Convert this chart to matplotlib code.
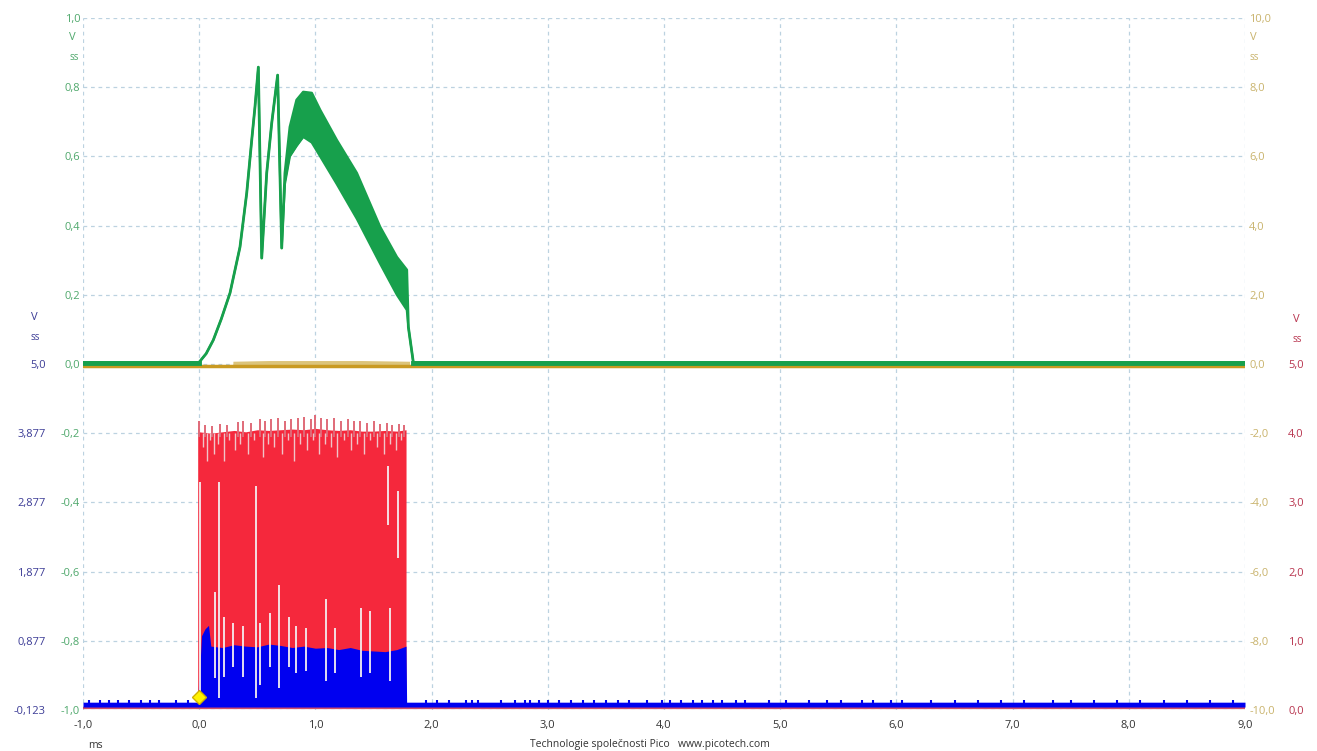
import numpy as np
import matplotlib.pyplot as plt

plt.rcParams['font.family'] = ['Open Sans', 'DejaVu Sans']

# time axis, ms
x_ticks = [-1, 0, 1, 2, 3, 4, 5, 6, 7, 8, 9]
x_labels = ['-1,0', '0,0', '1,0', '2,0', '3,0', '4,0', '5,0', '6,0', '7,0', '8,0', '9,0']

# axis tick labels of the four channels
green_ticks = [-1.0, -0.8, -0.6, -0.4, -0.2, 0.0, 0.2, 0.4, 0.6, 0.8, 1.0]
green_labels = ['-1,0', '-0,8', '-0,6', '-0,4', '-0,2', '0,0', '0,2', '0,4', '0,6', '0,8', '1,0']
yellow_ticks = [-10, -8, -6, -4, -2, 0, 2, 4, 6, 8, 10]
yellow_labels = ['-10,0', '-8,0', '-6,0', '-4,0', '-2,0', '0,0', '2,0', '4,0', '6,0', '8,0', '10,0']
blue_ticks = [-0.123, 0.877, 1.877, 2.877, 3.877, 4.877]
blue_labels = ['-0,123', '0,877', '1,877', '2,877', '3,877', '5,0']
red_ticks = [0, 1, 2, 3, 4, 5]
red_labels = ['0,0', '1,0', '2,0', '3,0', '4,0', '5,0']

# channel C (green), upper / lower envelope
green_t = [-1.0, -0.003, 0.06, 0.121, 0.19, 0.265, 0.351, 0.409, 0.452, 0.480, 0.509,
           0.538, 0.581, 0.624, 0.675, 0.710, 0.738, 0.781, 0.839, 0.896, 0.968,
           1.040, 1.183, 1.355, 1.556, 1.700, 1.786, 1.800, 1.843, 9.0]
green_hi = [0.004, 0.004, 0.03, 0.069, 0.13, 0.205, 0.338, 0.494, 0.647, 0.743, 0.858,
            0.306, 0.552, 0.696, 0.835, 0.335, 0.552, 0.685, 0.763, 0.786, 0.783,
            0.734, 0.647, 0.552, 0.396, 0.309, 0.272, 0.107, 0.004, 0.004]
green_lo = [0.004, 0.004, 0.03, 0.069, 0.13, 0.205, 0.338, 0.494, 0.647, 0.743, 0.858,
            0.306, 0.552, 0.696, 0.835, 0.335, 0.520, 0.600, 0.630, 0.656, 0.640,
            0.600, 0.520, 0.420, 0.290, 0.200, 0.156, 0.107, 0.004, 0.004]

# channel D (yellow)
yellow_t = [-1.0, 9.0]
yellow_v = [-0.06, -0.06]
yellow_noise_t = [0.29, 0.6, 1.0, 1.4, 1.81]
yellow_noise_hi = [0.08, 0.1, 0.1, 0.1, 0.08]

# channel A (blue)
blue_t = [-1.0, -0.01, -0.005, 0.0, 0.02, 0.05, 0.08, 0.1, 0.2, 0.3, 0.4, 0.5, 0.6,
          0.7, 0.8, 0.9, 1.0, 1.1, 1.2, 1.3, 1.4, 1.5, 1.6, 1.7, 1.78, 1.785, 9.0]
blue_hi = [-0.01, -0.01, 0.3, 0.31, 0.95, 1.05, 1.1, 0.8, 0.78, 0.82, 0.8, 0.79, 0.83,
           0.81, 0.78, 0.8, 0.77, 0.78, 0.75, 0.78, 0.74, 0.73, 0.72, 0.75, 0.8, -0.01, -0.01]
blue_lo = -0.08
blue_spikes_t = [-0.95, -0.85, -0.78, -0.7, -0.6, -0.5, -0.42, -0.35, -0.2, -0.1,
                 1.95, 2.05, 2.15, 2.3, 2.35, 2.4, 2.6, 2.72, 2.8, 2.85, 2.92, 3.0, 3.1,
                 3.2, 3.3, 3.4, 3.5, 3.6, 3.7, 3.85, 3.98, 4.05, 4.15, 4.25, 4.33, 4.42,
                 4.5, 4.62, 4.7, 4.9, 5.05, 5.25, 5.4, 5.52, 5.7, 5.8, 5.95, 6.05, 6.3,
                 6.5, 6.7, 6.9, 7.1, 7.35, 7.5, 7.7, 7.9, 8.1, 8.3, 8.5, 8.7, 8.9]
blue_spike_top = 0.025

# channel B (red)
red_t = [-0.013, 0.0, 0.1, 0.2, 0.3, 0.4, 0.5, 0.6, 0.7, 0.8, 0.9, 1.0, 1.1, 1.2,
         1.3, 1.4, 1.5, 1.6, 1.7, 1.78]
red_hi = [4.1, 4.02, 4.0, 4.02, 4.04, 4.02, 4.05, 4.04, 4.05, 4.06, 4.05, 4.07, 4.05,
          4.04, 4.05, 4.03, 4.03, 4.04, 4.03, 4.05]
red_base = 0.03
red_tip_t = [0.0, 0.05, 0.11, 0.18, 0.24, 0.33, 0.38, 0.45, 0.52, 0.57, 0.62, 0.68,
             0.74, 0.79, 0.85, 0.9, 0.96, 1.0, 1.05, 1.1, 1.16, 1.22, 1.28, 1.33,
             1.38, 1.44, 1.5, 1.56, 1.62, 1.66, 1.72, 1.76]
red_tip_hi = [4.17, 4.12, 4.1, 4.14, 4.12, 4.16, 4.18, 4.15, 4.2, 4.17, 4.2, 4.22,
              4.18, 4.2, 4.22, 4.24, 4.2, 4.27, 4.22, 4.2, 4.22, 4.18, 4.2, 4.17,
              4.18, 4.15, 4.17, 4.14, 4.15, 4.12, 4.13, 4.12]
red_notch_t = [0.03, 0.07, 0.09, 0.13, 0.16, 0.21, 0.26, 0.31, 0.35, 0.42, 0.47,
               0.55, 0.59, 0.64, 0.71, 0.76, 0.82, 0.87, 0.93, 0.98, 1.03, 1.08,
               1.13, 1.19, 1.25, 1.31, 1.36, 1.42, 1.47, 1.53, 1.59, 1.64, 1.69, 1.74]
red_notch_lo = [3.8, 3.6, 3.9, 3.7, 3.85, 3.6, 3.9, 3.75, 3.85, 3.7, 3.9, 3.65, 3.85,
                3.8, 3.7, 3.9, 3.6, 3.85, 3.75, 3.9, 3.7, 3.85, 3.8, 3.65, 3.9, 3.75,
                3.85, 3.7, 3.9, 3.8, 3.7, 3.85, 3.75, 3.9]
gap_t = [0.011, 0.134, 0.171, 0.214, 0.291, 0.377, 0.486, 0.527, 0.607, 0.687, 0.773,
         0.836, 0.916, 1.088, 1.165, 1.394, 1.474, 1.623, 1.643, 1.709]
gap_lo = [0.2, 0.46, 0.17, 0.48, 0.62, 0.48, 0.17, 0.36, 0.62, 0.32, 0.62,
          0.53, 0.57, 0.42, 0.53, 0.48, 0.53, 2.67, 0.42, 2.19]
gap_hi = [3.3, 1.71, 3.3, 1.34, 1.26, 1.22, 3.23, 1.26, 1.4, 1.8, 1.34,
          1.22, 1.18, 1.61, 1.18, 1.47, 1.43, 3.53, 1.47, 3.16]

trigger_t, trigger_v = 0.0, -0.963

W, H = 1317, 751
fig = plt.figure(figsize=(W / 100, H / 100), dpi=100)
ax = fig.add_axes([83 / W, 1 - 710 / H, (1245 - 83) / W, (710 - 18) / H])
ax_r = ax.twinx()
ax_b = ax.twinx()
ax_y = ax.twinx()
ax_g = ax.twinx()

grid_col = '#bcd2e0'
ax.set_xlim(-1, 9)
ax.set_ylim(-1, 1)
ax.set_xticks(x_ticks)
ax.set_xticklabels(x_labels)
ax.set_yticks(green_ticks)
ax.set_yticklabels(green_labels)
ax.grid(True, color=grid_col, linestyle=(0, (3, 3)), linewidth=0.9)
ax.tick_params(axis='x', length=0, pad=7, labelsize=8, labelcolor='#333333')
ax.tick_params(axis='y', length=0, pad=2, labelsize=8, labelcolor='#4fa86c')

ax_r.set_ylim(0, 10)
ax_r.set_yticks(red_ticks)
ax_r.set_yticklabels(red_labels)
ax_r.tick_params(axis='y', length=0, pad=31, labelsize=8, labelcolor='#b8344e')

ax_b.set_ylim(-0.123, 9.877)
ax_b.yaxis.tick_left()
ax_b.set_yticks(blue_ticks)
ax_b.set_yticklabels(blue_labels)
ax_b.tick_params(axis='y', length=0, pad=27, labelsize=8, labelcolor='#3c3c96')

ax_y.set_ylim(-10, 10)
ax_y.set_yticks(yellow_ticks)
ax_y.set_yticklabels(yellow_labels)
ax_y.tick_params(axis='y', length=0, pad=3, labelsize=8, labelcolor='#c9b36c')

ax_g.set_ylim(-1, 1)
ax_g.set_yticks([])

for a in (ax, ax_r, ax_b, ax_y, ax_g):
    for s in a.spines.values():
        s.set_visible(False)

# red channel
red_col = '#f5283c'
ax_r.plot([-1, 9], [red_base, red_base], color='#d0506a', lw=1.6)
ax_r.fill_between(red_t, red_base, red_hi, color=red_col, lw=0)
ax_r.vlines(red_tip_t, 3.95, red_tip_hi, color='#e06a78', lw=1.4)
ax_r.vlines(red_notch_t, red_notch_lo, 4.0, color='#f0c4c8', lw=1.0)

# blue channel
blue_col = '#0000f0'
ax_b.fill_between(blue_t, blue_lo, blue_hi, color=blue_col, lw=0)
ax_b.vlines(blue_spikes_t, blue_lo, blue_spike_top, color=blue_col, lw=1.5)
ax_b.vlines(gap_t, gap_lo, gap_hi, color='#f4eef0', lw=1.3, transform=ax_r.transData)

# yellow channel
ax_y.fill_between(yellow_noise_t, -0.06, yellow_noise_hi, color='#dcc47a', lw=0)
ax_y.plot(yellow_t, yellow_v, color='#c99a22', lw=2.5)

# green channel
green_col = '#17a04c'
ax_g.fill_between(green_t, green_lo, green_hi, color=green_col, lw=0)
ax_g.plot(green_t, green_hi, color=green_col, lw=2)
ax_g.plot(green_t, green_lo, color=green_col, lw=1.5)
ax_g.plot([-1, -0.003], [0.004, 0.004], color=green_col, lw=3.5)
ax_g.plot([1.843, 9], [0.004, 0.004], color=green_col, lw=3.5)

# trigger marker
ax_g.plot(trigger_t, trigger_v, marker='D', ms=7, mfc='#fff200', mec='#d0b000', mew=1)

def ftext(x, y, s, **kw):
    fig.text(x / W, 1 - y / H, s, va='center', **kw)

ftext(72, 37, 'V', color='#4fa86c', fontsize=8, ha='center')
ftext(74, 57, 'ss', color='#4fa86c', fontsize=7, ha='center')
ftext(1250, 37, 'V', color='#c9b36c', fontsize=8, ha='left')
ftext(1250, 57, 'ss', color='#c9b36c', fontsize=7, ha='left')
ftext(34, 318, 'V', color='#3c3c96', fontsize=8, ha='center')
ftext(35, 337, 'ss', color='#3c3c96', fontsize=7, ha='center')
ftext(1296, 320, 'V', color='#b8344e', fontsize=8, ha='center')
ftext(1297, 339, 'ss', color='#b8344e', fontsize=7, ha='center')
ftext(95, 745, 'ms', color='#333333', fontsize=7.5, ha='center')
ftext(650, 745, 'Technologie společnosti Pico   www.picotech.com',
      color='#333333', fontsize=7.5, ha='center')

fig.savefig('out.png', dpi=100)
